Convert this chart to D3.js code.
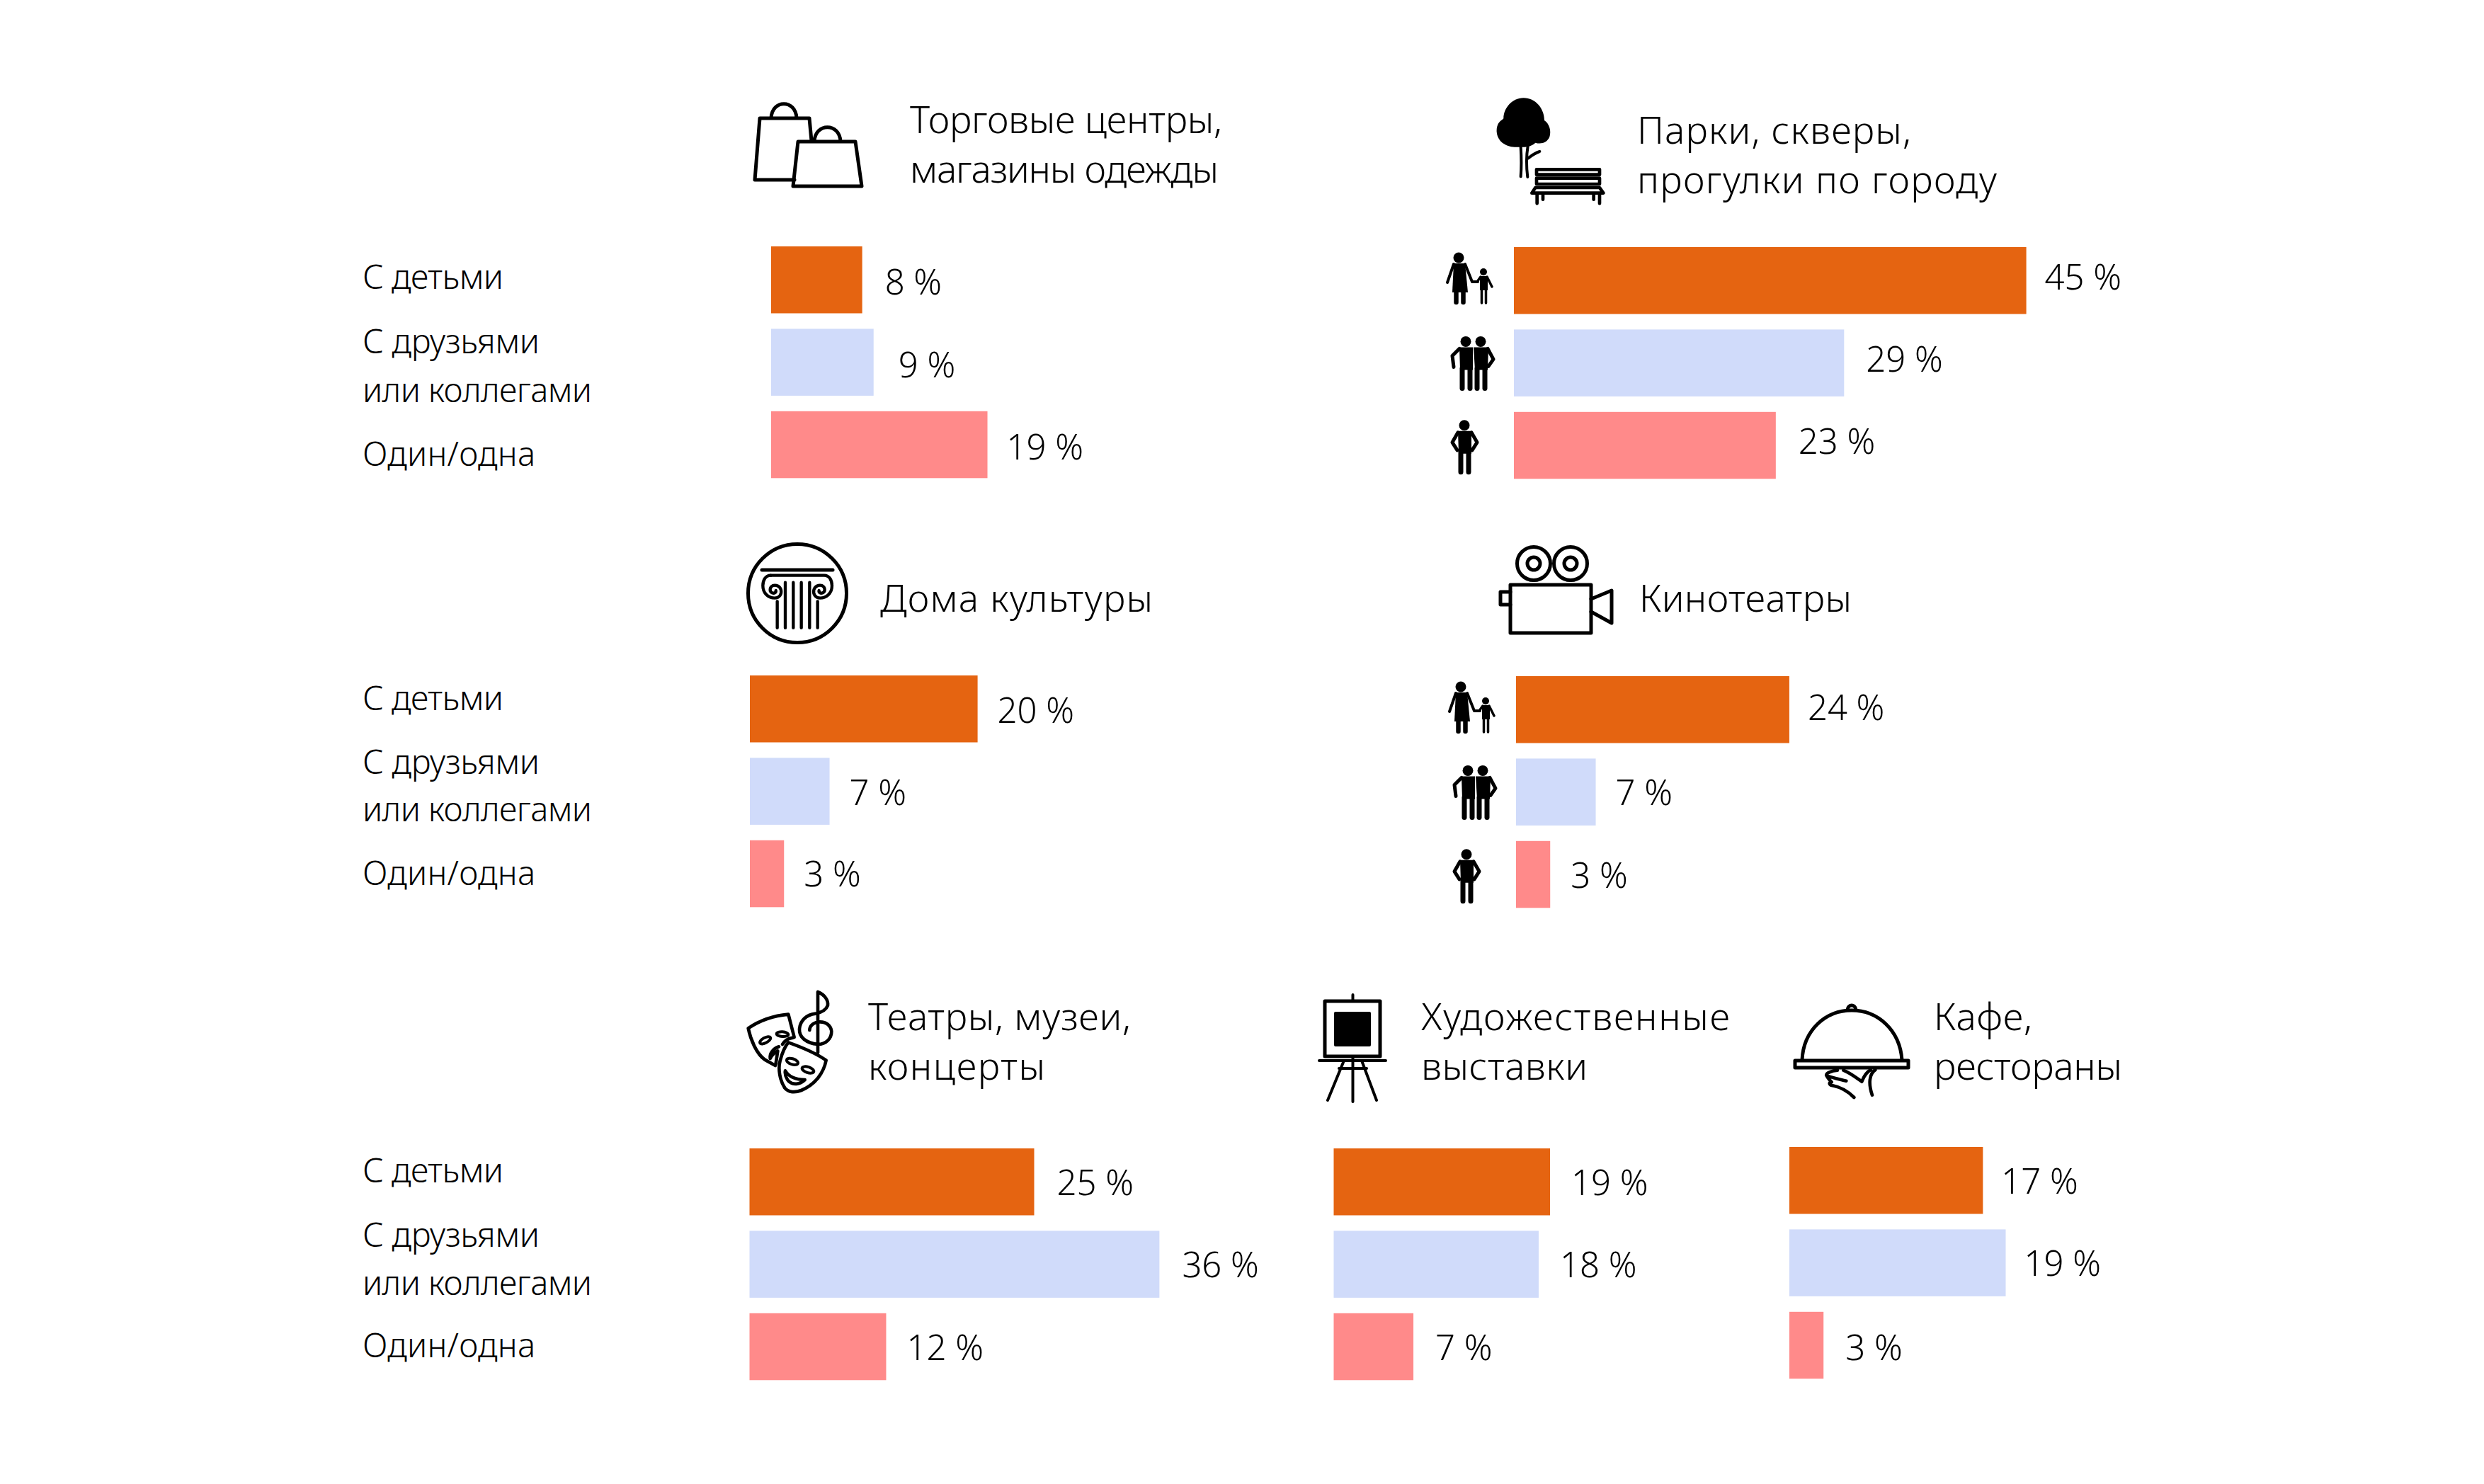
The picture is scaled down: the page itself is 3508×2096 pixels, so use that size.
<!DOCTYPE html>
<html>

<head>
    <meta charset="utf-8">
    <style>
        body {
            margin: 0;
            background: #fff;
        }

        svg {
            display: block;
        }

        text {
            font-family: 'Noto Sans', sans-serif;
            font-weight: 300;
            fill: #000;
        }

        .title {
            font-size: 53px;
        }

        .row-label {
            font-size: 47px;
        }

        .value {
            font-size: 49px;
        }

        .line-icon * {
            fill: none;
            stroke: #000;
            stroke-width: 5;
            stroke-linecap: round;
            stroke-linejoin: round;
        }
    </style>
</head>

<body>
    <svg width="3508" height="2096"></svg>
</body>

<script src="https://d3js.org/d3.v7.min.js"></script>

<script>
    // the data (percent)
    let seriesKeys = ['children', 'friends', 'alone'];
    let seriesColors = ['#e56411', '#d0dbfa', '#ff8a8a'];
    let rowLabels = [['С детьми'], ['С друзьями', 'или коллегами'], ['Один/одна']];

    let shopValues = [8, 9, 19];
    let parkValues = [45, 29, 23];
    let houseValues = [20, 7, 3];
    let cinemaValues = [24, 7, 3];
    let theatreValues = [25, 36, 12];
    let artValues = [19, 18, 7];
    let cafeValues = [17, 19, 3];

    let shopTitle = ['Торговые центры,', 'магазины одежды'];
    let parkTitle = ['Парки, скверы,', 'прогулки по городу'];
    let houseTitle = ['Дома культуры'];
    let cinemaTitle = ['Кинотеатры'];
    let theatreTitle = ['Театры, музеи,', 'концерты'];
    let artTitle = ['Художественные', 'выставки'];
    let cafeTitle = ['Кафе,', 'рестораны'];

    // layout, px
    let pxPerPercent = 16.08;
    let rowStep = 116.4;
    let barHeight = 94.5;

    let panels = [
        { values: shopValues, title: shopTitle, icon: shopIcon, left: 1089, top: 348, titleX: 1285, titleY: 188, titleW: [441, 436], valueY: [416, 533, 649], gap: [32, 35, 27] },
        { values: parkValues, title: parkTitle, icon: parkIcon, left: 2138, top: 349, titleX: 2312, titleY: 203, titleW: [387, 508], valueY: [409, 525, 641], gap: [26, 31, 32], people: true },
        { values: houseValues, title: houseTitle, icon: houseIcon, left: 1059, top: 954, titleX: 1243, titleY: 864, titleW: [385], valueY: [1021, 1137, 1252], gap: [28, 28, 28] },
        { values: cinemaValues, title: cinemaTitle, icon: cinemaIcon, left: 2141, top: 955, titleX: 2315, titleY: 864, titleW: [300], valueY: [1017, 1137, 1254], gap: [26, 28, 29], people: true },
        { values: theatreValues, title: theatreTitle, icon: theatreIcon, left: 1058.5, top: 1622, titleX: 1226, titleY: 1455, titleW: [371, 250], valueY: [1688, 1804, 1921], gap: [32, 32, 29] },
        { values: artValues, title: artTitle, icon: artIcon, left: 1883.5, top: 1622, titleX: 2007, titleY: 1455, titleW: [436, 235], valueY: [1688, 1804, 1921], gap: [30, 30, 31] },
        { values: cafeValues, title: cafeTitle, icon: cafeIcon, left: 2527, top: 1620, titleX: 2731, titleY: 1455, titleW: [139, 266], valueY: [1686, 1802, 1921], gap: [26, 26, 31] }
    ];

    // baselines of the row captions on the left, one group per chart row
    let rowLabelX = 512;
    let rowLabelW = [[199], [250, 324], [244]];
    let rowLabelY = [
        [[408], [499, 568], [658]],
        [[1003], [1093, 1160], [1250]],
        [[1670], [1761, 1829], [1917]]
    ];

    let svg = d3.select('svg');
    let x = d3.scaleLinear().domain([0, 1]).range([0, pxPerPercent]);

    rowLabelY.forEach(group => {
        group.forEach((lines, i) => {
            svg.append('g')
                .selectAll('text')
                .data(lines)
                .join('text')
                .attr('class', 'row-label')
                .attr('x', rowLabelX)
                .attr('y', d => d)
                .attr('textLength', (d, j) => rowLabelW[i][j])
                .text((d, j) => rowLabels[i][j]);
        })
    })

    panels.forEach(p => {
        let y = d3.scaleBand()
            .domain(seriesKeys)
            .range([p.top, p.top + 2 * rowStep + barHeight])
            .paddingInner(1 - barHeight / rowStep);

        let g = svg.append('g');

        g.selectAll('rect')
            .data(p.values)
            .join('rect')
            .attr('x', p.left)
            .attr('y', (d, i) => y(seriesKeys[i]))
            .attr('width', d => x(d))
            .attr('height', y.bandwidth())
            .attr('fill', (d, i) => seriesColors[i]);

        g.selectAll('.value')
            .data(p.values)
            .join('text')
            .attr('class', 'value')
            .attr('x', (d, i) => p.left + x(d) + p.gap[i])
            .attr('y', (d, i) => p.valueY[i])
            .text(d => d + '\u00a0%');

        g.selectAll('.title')
            .data(p.title)
            .join('text')
            .attr('class', 'title')
            .attr('x', p.titleX)
            .attr('y', (d, i) => p.titleY + i * 70)
            .attr('textLength', (d, i) => p.titleW[i])
            .text(d => d);

        p.icon(g.append('g').attr('class', 'line-icon'));

        if (p.people) {
            peopleIcons(g, p.left - 96, y);
        }
    })

    // ---- icons, hand traced in page pixels ----

    function shopIcon(g) {
        g.append('path').attr('d', 'M1143,167 H1073 L1066,254 H1122 M1143,167 L1146,199 M1089,167 C1090,140 1124,140 1125,167');
        g.append('path').attr('d', 'M1127,200 H1208 L1217,263 H1120 Z M1150,200 C1151,173 1186,173 1187,200');
    }

    function parkIcon(g) {
        let c = g.append('g').attr('transform', 'translate(2105,130) scale(0.3333)');
        c.append('path').style('fill', '#000').style('stroke-width', 0)
            .attr('d', 'M140,25 C190,25 228,70 228,120 C250,135 258,165 250,190 C240,215 215,222 190,215 C175,230 150,235 125,233 C95,235 75,232 50,215 C25,195 20,160 32,135 C40,122 50,118 55,112 C55,70 90,25 140,25 Z');
        c.append('path').style('stroke-width', 12)
            .attr('d', 'M128,232 C131,280 131,320 128,358 M158,230 C150,280 152,320 157,360 M160,280 C175,268 190,258 208,252');
        c.append('path').style('stroke-width', 14)
            .attr('d', 'M195,328 H462 V350 H195 Z M195,365 H462 V390 H195 Z M190,405 H462 L478,428 H175 Z M197,428 V472 M462,428 V472 M222,428 V455 M437,428 V455');
    }

    function houseIcon(g) {
        g.append('circle').attr('cx', 1126).attr('cy', 838).attr('r', 69.5);
        g.append('path').attr('d', 'M1076,805 H1176');
        // capital with the two volutes, drawn in 3x units
        let c = g.append('g').attr('transform', 'translate(1040,740) scale(0.3333)');
        c.append('path').style('stroke-width', 13)
            .attr('d', 'M145,218 H372 C395,218 405,240 405,262 C405,295 380,314 355,314 C335,314 324,298 328,280 C332,264 350,256 364,262 C376,268 378,286 366,292 C356,296 348,290 350,282');
        c.append('path').style('stroke-width', 13)
            .attr('d', 'M145,218 C122,218 112,240 112,262 C112,295 137,314 162,314 C182,314 193,298 189,280 C185,264 167,256 153,262 C141,268 139,286 151,292 C161,296 169,290 167,282');
        c.append('path').style('stroke-width', 13)
            .attr('d', 'M173,328 V440 M207,248 V440 M241,248 V440 M275,248 V440 M310,248 V440 M344,328 V440');
    }

    function cinemaIcon(g) {
        g.selectAll('.reel')
            .data([2166, 2218])
            .join('circle')
            .attr('class', 'reel')
            .attr('cx', d => d).attr('cy', 796).attr('r', 23.5);
        g.selectAll('.hub')
            .data([2166, 2218])
            .join('circle')
            .attr('class', 'hub')
            .attr('cx', d => d).attr('cy', 796).attr('r', 9);
        g.append('rect').attr('x', 2133).attr('y', 826).attr('width', 114).attr('height', 68);
        g.append('path').attr('d', 'M2133,836 H2119 V854 H2133 M2247,846 L2276,834 V880 L2247,864');
    }

    function theatreIcon(g) {
        let c = g.append('g').attr('transform', 'translate(1045,1395) scale(0.3333)');
        c.selectAll('path, ellipse').style('stroke-width', 14);
        let line = d => c.append('path').style('stroke-width', 14).attr('d', d);
        // clef first, the front mask sits over it
        line('M330,18 V275 M330,18 C360,30 375,55 372,75 C365,95 345,105 320,110 C280,115 255,140 252,175 C250,210 280,235 330,240 C365,240 388,215 388,185 C385,160 365,145 340,145 C315,145 295,160 295,180');
        // back mask
        line('M230,210 L205,113 C150,118 90,135 35,172 C45,220 70,280 105,305 L150,330');
        line('M225,212 C200,215 190,225 180,240 M165,250 C140,258 125,280 128,300 C135,285 150,272 160,268 L152,322');
        c.append('ellipse').style('stroke-width', 12).attr('rx', 25).attr('ry', 11).attr('transform', 'translate(107,223) rotate(-28)');
        c.append('ellipse').style('stroke-width', 12).attr('rx', 25).attr('ry', 10).attr('transform', 'translate(180,197) rotate(4)');
        // front mask
        line('M205,232 C255,250 320,275 365,308 C355,360 320,410 260,435 C235,445 205,445 190,425 C170,395 160,345 170,310 C178,280 190,250 205,232 Z')
            .style('fill', '#fff');
        c.append('ellipse').style('stroke-width', 12).attr('rx', 25).attr('ry', 12).attr('transform', 'translate(222,313) rotate(18)');
        c.append('ellipse').style('stroke-width', 12).attr('rx', 26).attr('ry', 12).attr('transform', 'translate(288,348) rotate(18)');
        line('M192,352 C205,375 235,390 275,390 C255,410 225,415 205,395 C195,382 190,365 192,352 Z');
    }

    function artIcon(g) {
        g.append('rect').attr('x', 1871).attr('y', 1414).attr('width', 78).attr('height', 78);
        g.append('rect').attr('x', 1884).attr('y', 1429).attr('width', 52).attr('height', 49).attr('rx', 2).style('fill', '#000').style('stroke-width', 0);
        g.append('path').attr('d', 'M1910.5,1405 V1414 M1863,1498 H1957 M1891,1509 H1930 M1910.5,1492 V1556 M1898,1498 L1875,1554 M1923,1498 L1944,1554').style('stroke-width', 4);
    }

    function cafeIcon(g) {
        g.append('path').attr('d', 'M2545,1497 C2547,1455 2578,1427 2615,1427 C2652,1427 2683,1455 2686,1497');
        g.append('path').attr('d', 'M2609,1426 C2610,1418 2620,1418 2621,1426');
        g.append('rect').attr('x', 2535).attr('y', 1498).attr('width', 160).attr('height', 10);
        let c = g.append('g').attr('transform', 'translate(2570,1495) scale(0.3333)');
        c.append('path').style('stroke-width', 14)
            .attr('d', 'M235,48 C210,65 205,105 222,155 M100,50 C130,62 155,82 178,98 C185,80 195,60 215,48 M75,50 C50,52 25,62 28,72 C45,80 85,88 112,95 M30,75 C35,85 45,95 50,100 M45,100 C38,105 42,115 55,115 C90,122 120,140 145,165');
    }

    // small figures in front of the bars in the right hand charts
    function peopleIcons(g, left, y) {
        let row = d3.scaleOrdinal().domain(seriesKeys).range([parentChild, pair, single]);
        let dx = [0, 6, 6];
        let dy = [7, 9, 11];
        seriesKeys.forEach((key, i) => {
            let fig = g.append('g').attr('transform', `translate(${left + dx[i]},${y(key) + dy[i]})`);
            row(key)(fig);
        })
    }

    function limb(fig, d, w) {
        fig.append('path').attr('d', d).attr('fill', 'none').attr('stroke', '#000')
            .attr('stroke-width', w).attr('stroke-linecap', 'round').attr('stroke-linejoin', 'round');
    }

    function parentChild(fig) {
        fig.append('circle').attr('cx', 18).attr('cy', 8).attr('r', 7.5);
        fig.append('path').attr('d', 'M11,16 H27 L31,57 H9 Z');
        limb(fig, 'M11,17 L2,43', 4);
        limb(fig, 'M27,17 L37,42 H45', 4);
        limb(fig, 'M14.5,56 V71', 6.5);
        limb(fig, 'M24.5,56 V71', 6.5);
        fig.append('circle').attr('cx', 53).attr('cy', 28).attr('r', 5);
        fig.append('path').attr('d', 'M48,34 H59 V54 H48 Z');
        limb(fig, 'M49,35 L44,42', 3.5);
        limb(fig, 'M58,35 L65,49', 3.5);
        limb(fig, 'M50.5,54 V72', 3.5);
        limb(fig, 'M56.5,54 V72', 3.5);
    }

    function pair(fig) {
        fig.append('circle').attr('cx', 22).attr('cy', 8).attr('r', 7.5);
        fig.append('circle').attr('cx', 43).attr('cy', 8).attr('r', 7.5);
        fig.append('path').attr('d', 'M13,16 H32 V48 H14 Z M33,16 H54 L53,48 H35 Z');
        limb(fig, 'M13,18 L3,28 L5,44', 5);
        limb(fig, 'M53,18 L61,33 L54,43', 5);
        limb(fig, 'M17,46 V74', 7);
        limb(fig, 'M28,46 V74', 7);
        limb(fig, 'M38,46 V74', 7);
        limb(fig, 'M49,46 V74', 7);
    }

    function single(fig) {
        fig.append('circle').attr('cx', 20).attr('cy', 8).attr('r', 7.5);
        fig.append('path').attr('d', 'M11,16 H30 V48 H12 Z');
        limb(fig, 'M11,18 L3,32 L10,43', 5);
        limb(fig, 'M30,18 L38,32 L31,43', 5);
        limb(fig, 'M15,46 V74', 7);
        limb(fig, 'M26,46 V74', 7);
    }
</script>

</html>
